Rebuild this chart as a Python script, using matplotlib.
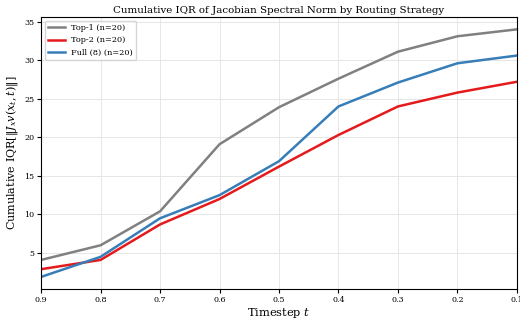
import matplotlib
matplotlib.use("Agg")
import matplotlib.pyplot as plt

plt.rcParams["font.family"] = "DejaVu Serif"
plt.rcParams["mathtext.fontset"] = "dejavuserif"

timesteps = [0.9, 0.8, 0.7, 0.6, 0.5, 0.4, 0.3, 0.2, 0.1]
top1 = [4.1, 6.0, 10.4, 19.1, 23.9, 27.6, 31.1, 33.1, 34.0]
top2 = [2.9, 4.1, 8.7, 12.0, 16.2, 20.3, 24.0, 25.8, 27.2]
full8 = [1.9, 4.5, 9.5, 12.5, 16.9, 24.0, 27.1, 29.6, 30.6]

fig, ax = plt.subplots(figsize=(5.2, 3.2), dpi=100)
ax.plot(timesteps, top1, color="#808080", lw=1.8, label="Top-1 (n=20)")
ax.plot(timesteps, top2, color="#e41a1c", lw=1.8, label="Top-2 (n=20)")
ax.plot(timesteps, full8, color="#377eb8", lw=1.8, label="Full (8) (n=20)")

ax.set_xlim(0.9, 0.1)
ax.set_xticks(timesteps)
ax.tick_params(labelsize=5.8, length=3, pad=2)
ax.grid(True, color="#e6e6e6", lw=0.7)
ax.set_xlabel("Timestep $t$", fontsize=8.2, labelpad=1)
ax.set_ylabel(r"Cumulative IQR[$\|J_x v(x_t, t)\|$]", fontsize=8, labelpad=3)
ax.set_title("Cumulative IQR of Jacobian Spectral Norm by Routing Strategy", fontsize=7.4, pad=3)
ax.legend(loc="upper left", fontsize=5.9)

fig.subplots_adjust(left=0.079, right=0.994, top=0.947, bottom=0.096)
fig.savefig("out.png", dpi=100)
